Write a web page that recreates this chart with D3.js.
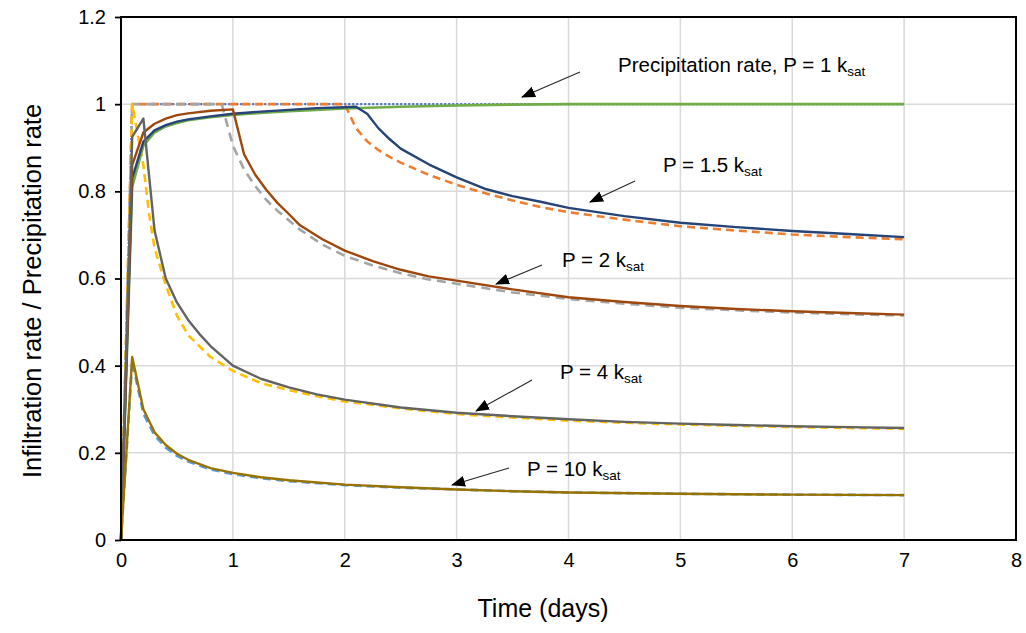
<!DOCTYPE html>
<html>
<head>
<meta charset="utf-8">
<script src="https://cdn.jsdelivr.net/npm/d3@7"></script>
<style>
  html, body { margin: 0; padding: 0; background: #fff; }
  svg { display: block; }
  text { font-family: "Liberation Sans", Arial, sans-serif; }
</style>
</head>
<body>
<svg id="chart" width="1026" height="633"></svg>
<script>
// ---------------- DATA ----------------
const xTicks = [0, 1, 2, 3, 4, 5, 6, 7, 8];
const yTicks = [0, 0.2, 0.4, 0.6, 0.8, 1, 1.2];
const yTickLabels = ["0", "0.2", "0.4", "0.6", "0.8", "1", "1.2"];

// P = 1 ksat, analytic (dotted)
const tP1a = [0, 0.1, 7];
const vP1a = [0, 1, 1];
// P = 1.5 ksat, analytic (dashed)
const tP15a = [0, 0.1, 2.0, 2.1, 2.2, 2.3, 2.4, 2.5, 2.75, 3.0, 3.25, 3.5, 3.75, 4.0, 4.5, 5.0, 5.5, 6.0, 6.5, 7.0];
const vP15a = [0, 1, 1, 0.945, 0.915, 0.895, 0.879, 0.866, 0.838, 0.815, 0.796, 0.779, 0.764, 0.752, 0.735, 0.72, 0.71, 0.701, 0.695, 0.69];
// P = 2 ksat, analytic (dashed)
const tP2a = [0, 0.1, 0.9, 1.0, 1.1, 1.2, 1.3, 1.4, 1.6, 1.8, 2.0, 2.25, 2.5, 2.75, 3.0, 3.5, 4.0, 4.5, 5.0, 5.5, 6.0, 6.5, 7.0];
const vP2a = [0, 1, 1, 0.905, 0.85, 0.812, 0.78, 0.755, 0.712, 0.678, 0.652, 0.63, 0.612, 0.598, 0.588, 0.568, 0.553, 0.542, 0.533, 0.527, 0.522, 0.518, 0.515];
// P = 4 ksat, analytic (dashed)
const tP4a = [0, 0.1, 0.2, 0.25, 0.3, 0.4, 0.5, 0.6, 0.8, 1.0, 1.25, 1.5, 1.75, 2.0, 2.5, 3.0, 3.5, 4.0, 4.5, 5.0, 5.5, 6.0, 6.5, 7.0];
const vP4a = [0, 1, 0.86, 0.75, 0.67, 0.585, 0.515, 0.47, 0.42, 0.388, 0.36, 0.344, 0.33, 0.318, 0.302, 0.289, 0.281, 0.274, 0.269, 0.265, 0.262, 0.259, 0.257, 0.255];
// P = 10 ksat, analytic (dashed)
const tP10a = [0, 0.1, 0.2, 0.3, 0.4, 0.5, 0.6, 0.8, 1.0, 1.25, 1.5, 2.0, 2.5, 3.0, 3.5, 4.0, 5.0, 6.0, 7.0];
const vP10a = [0, 0.41, 0.29, 0.24, 0.212, 0.193, 0.18, 0.162, 0.151, 0.142, 0.135, 0.126, 0.12, 0.116, 0.112, 0.109, 0.106, 0.104, 0.103];

// P = 1 ksat, numerical (solid)
const tP1n = [0, 0.1, 0.2, 0.3, 0.4, 0.5, 0.6, 0.8, 1.0, 1.25, 1.5, 1.75, 2.0, 2.5, 3.0, 3.5, 4.0, 5.0, 6.0, 7.0];
const vP1n = [0, 0.81, 0.905, 0.935, 0.949, 0.957, 0.963, 0.97, 0.975, 0.98, 0.984, 0.987, 0.99, 0.994, 0.997, 0.999, 1, 1, 1, 1];
// P = 1.5 ksat, numerical (solid)
const tP15n = [0, 0.1, 0.2, 0.3, 0.4, 0.5, 0.6, 0.8, 1.0, 1.25, 1.5, 1.75, 2.0, 2.1, 2.2, 2.3, 2.4, 2.5, 2.75, 3.0, 3.25, 3.5, 3.75, 4.0, 4.5, 5.0, 5.5, 6.0, 6.5, 7.0];
const vP15n = [0, 0.83, 0.914, 0.94, 0.952, 0.96, 0.965, 0.972, 0.978, 0.983, 0.987, 0.991, 0.993, 0.994, 0.978, 0.945, 0.92, 0.898, 0.862, 0.832, 0.806, 0.789, 0.776, 0.762, 0.743, 0.728, 0.718, 0.709, 0.702, 0.695];
// P = 2 ksat, numerical (solid)
const tP2n = [0, 0.1, 0.2, 0.3, 0.4, 0.5, 0.6, 0.8, 1.0, 1.1, 1.2, 1.3, 1.4, 1.5, 1.6, 1.8, 2.0, 2.25, 2.5, 2.75, 3.0, 3.5, 4.0, 4.5, 5.0, 5.5, 6.0, 6.5, 7.0];
const vP2n = [0, 0.86, 0.935, 0.955, 0.967, 0.975, 0.979, 0.985, 0.988, 0.885, 0.838, 0.803, 0.773, 0.748, 0.722, 0.69, 0.664, 0.64, 0.62, 0.605, 0.595, 0.575, 0.557, 0.546, 0.537, 0.53, 0.525, 0.521, 0.517];
// P = 4 ksat, numerical (solid)
const tP4n = [0, 0.1, 0.2, 0.3, 0.4, 0.5, 0.6, 0.7, 0.8, 1.0, 1.25, 1.5, 1.75, 2.0, 2.5, 3.0, 3.5, 4.0, 4.5, 5.0, 5.5, 6.0, 6.5, 7.0];
const vP4n = [0, 0.925, 0.967, 0.71, 0.6, 0.545, 0.505, 0.473, 0.445, 0.4, 0.37, 0.35, 0.334, 0.322, 0.304, 0.292, 0.284, 0.277, 0.271, 0.267, 0.264, 0.261, 0.259, 0.257];
// P = 10 ksat, numerical (solid)
const tP10n = [0, 0.1, 0.2, 0.3, 0.4, 0.5, 0.6, 0.8, 1.0, 1.25, 1.5, 2.0, 2.5, 3.0, 3.5, 4.0, 5.0, 6.0, 7.0];
const vP10n = [0, 0.42, 0.3, 0.247, 0.218, 0.198, 0.184, 0.165, 0.154, 0.144, 0.137, 0.127, 0.121, 0.116, 0.112, 0.109, 0.106, 0.104, 0.103];

// Annotation texts
const annoMain = ["Precipitation rate, P = 1 k", "P = 1.5 k", "P = 2 k", "P = 4 k", "P = 10 k"];
const annoSub = "sat";

// ---------------- CHART ----------------
const svg = d3.select("#chart");
const x = d3.scaleLinear().domain([0, 8]).range([121, 1016]);
const y = d3.scaleLinear().domain([0, 1.2]).range([540, 17]);

svg.append("rect").attr("width", 1026).attr("height", 633).attr("fill", "#fff");

// gridlines
const grid = svg.append("g");
grid.selectAll(".gx").data(xTicks.slice(1)).join("line")
  .attr("x1", d => x(d)).attr("x2", d => x(d)).attr("y1", y(0)).attr("y2", y(1.2))
  .attr("stroke", "#d9d9d9").attr("stroke-width", 1.5);
grid.selectAll(".gy").data(yTicks.slice(1)).join("line")
  .attr("x1", x(0)).attr("x2", x(8)).attr("y1", d => y(d)).attr("y2", d => y(d))
  .attr("stroke", "#d9d9d9").attr("stroke-width", 1.5);

// series
const series = [
  { t: tP1a, v: vP1a, color: "#4472C4", dash: "2,2", w: 2.2 },
  { t: tP15a, v: vP15a, color: "#ED7D31", dash: "8,5", w: 2.6 },
  { t: tP2a, v: vP2a, color: "#A5A5A5", dash: "9,6", w: 2.6 },
  { t: tP4a, v: vP4a, color: "#FFC000", dash: "8,5", w: 2.6 },
  { t: tP10a, v: vP10a, color: "#5B9BD5", dash: "8,5", w: 2.6 },
  { t: tP1n, v: vP1n, color: "#70AD47", dash: null, w: 2.6 },
  { t: tP15n, v: vP15n, color: "#264478", dash: null, w: 2.4 },
  { t: tP2n, v: vP2n, color: "#9E480E", dash: null, w: 2.4 },
  { t: tP4n, v: vP4n, color: "#636363", dash: null, w: 2.4 },
  { t: tP10n, v: vP10n, color: "#997300", dash: null, w: 2.4 }
];
const line = d3.line().x(d => x(d[0])).y(d => y(d[1])).curve(d3.curveLinear);
series.forEach(s => {
  svg.append("path")
    .datum(s.t.map((t, i) => [t, s.v[i]]))
    .attr("d", line)
    .attr("fill", "none")
    .attr("stroke", s.color)
    .attr("stroke-width", s.w)
    .attr("stroke-linejoin", "round")
    .attr("stroke-dasharray", s.dash);
});

// axes
const yAxis = d3.axisLeft(y).tickValues(yTicks).tickFormat((d, i) => yTickLabels[i]).tickSize(6).tickPadding(9);
const gy = svg.append("g").attr("transform", `translate(${x(0)},0)`).call(yAxis);
gy.select(".domain").remove();
gy.selectAll("line").attr("stroke", "#000").attr("stroke-width", 1.8);
gy.selectAll("text").attr("font-size", 20).attr("fill", "#000")
  .attr("font-family", "Liberation Sans, Arial, sans-serif");

const xAxis = d3.axisBottom(x).tickValues(xTicks).tickFormat(d3.format("d")).tickSize(0).tickPadding(13);
const gx = svg.append("g").attr("transform", `translate(0,${y(0)})`).call(xAxis);
gx.select(".domain").remove();
gx.selectAll("text").attr("font-size", 20).attr("fill", "#000")
  .attr("font-family", "Liberation Sans, Arial, sans-serif");

// frame
svg.append("rect")
  .attr("x", x(0)).attr("y", y(1.2))
  .attr("width", x(8) - x(0)).attr("height", y(0) - y(1.2))
  .attr("fill", "none").attr("stroke", "#000").attr("stroke-width", 2);

// axis titles
svg.append("text").attr("x", 543).attr("y", 617).attr("text-anchor", "middle")
  .attr("font-size", 25).attr("fill", "#000").text("Time (days)");
svg.append("text").attr("transform", "translate(41,291) rotate(-90)").attr("text-anchor", "middle")
  .attr("font-size", 25.5).attr("fill", "#000").text("Infiltration rate / Precipitation rate");

// arrows
const defs = svg.append("defs");
defs.append("marker").attr("id", "ah").attr("viewBox", "0 -6 14 12")
  .attr("markerUnits", "userSpaceOnUse").attr("markerWidth", 14).attr("markerHeight", 12)
  .attr("refX", 13).attr("refY", 0).attr("orient", "auto")
  .append("path").attr("d", "M0,-5.5L14,0L0,5.5Z").attr("fill", "#000");

const arrows = [
  [580, 72, 522, 97],
  [635, 181, 590, 202],
  [542, 265, 496, 284],
  [532, 380, 476, 411],
  [509, 468, 452, 485]
];
svg.selectAll(".arrow").data(arrows).join("line")
  .attr("x1", d => d[0]).attr("y1", d => d[1]).attr("x2", d => d[2]).attr("y2", d => d[3])
  .attr("stroke", "#262626").attr("stroke-width", 1.1).attr("marker-end", "url(#ah)");

// annotation labels
const annoPos = [[618, 72], [663, 172], [562, 267], [560, 379], [527, 476]];
annoMain.forEach((txt, i) => {
  const t = svg.append("text").attr("x", annoPos[i][0]).attr("y", annoPos[i][1])
    .attr("font-size", 20.5).attr("fill", "#000");
  t.append("tspan").text(txt);
  t.append("tspan").attr("font-size", 13.5).attr("dy", 4).text(annoSub);
});
</script>
</body>
</html>
